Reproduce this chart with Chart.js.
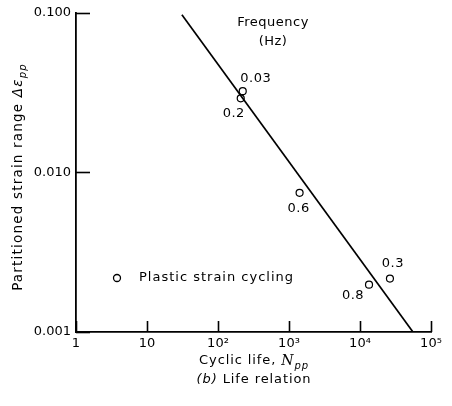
<!DOCTYPE html>
<html>
<head>
<meta charset="utf-8">
<script src="https://cdn.jsdelivr.net/npm/chart.js@4"></script>
<style>
  html, body { margin: 0; padding: 0; background: #fff; }
  #wrap { width: 452px; height: 406px; }
</style>
</head>
<body>
<div id="wrap"><canvas id="life-chart" width="452" height="406"></canvas></div>
<script>
// Cyclic life vs partitioned strain range
const cycles = [223, 209, 1410, 26400, 13400];
const strainRange = [0.0323, 0.0291, 0.00745, 0.00216, 0.00198];
const freqLabels = ['0.03', '0.2', '0.6', '0.3', '0.8'];
// label offsets from each point (px)
const labelOffsets = [[13, -13], [-7, 15], [-1, 16], [3, -15], [-16, 11]];

// fitted life line, endpoints
const fitCycles = [31, 55700];
const fitStrain = [0.0972, 0.001];

const xTicks = [1, 10, 100, 1000, 10000, 100000];
const xTickLabels = ['1', '10', '10²', '10³', '10⁴', '10⁵'];
const yTicks = [0.001, 0.01, 0.1];
const yTickLabels = ['0.001', '0.010', '0.100'];

const FONT = '"DejaVu Sans", sans-serif';

const figureText = {
    id: 'figureText',
    afterDraw(chart) {
        const c = chart.ctx;
        const area = chart.chartArea;
        const xs = chart.scales.x, ys = chart.scales.y;
        c.save();
        c.strokeStyle = '#000';
        c.fillStyle = '#000';

        // inward tick marks
        c.lineWidth = 1.6;
        xTicks.forEach(v => {
            const px = Math.round(xs.getPixelForValue(v)) + 0.5;
            c.beginPath();
            c.moveTo(px, area.bottom);
            c.lineTo(px, area.bottom - 11);
            c.stroke();
        });
        yTicks.forEach(v => {
            const py = Math.round(ys.getPixelForValue(v)) + 0.5;
            c.beginPath();
            c.moveTo(area.left, py);
            c.lineTo(area.left + 14, py);
            c.stroke();
        });

        // frequency labels next to points
        c.font = '13px ' + FONT;
        c.letterSpacing = '0.5px';
        c.textAlign = 'center';
        c.textBaseline = 'middle';
        const pts = chart.getDatasetMeta(1).data;
        pts.forEach((p, i) => {
            c.fillText(freqLabels[i], p.x + labelOffsets[i][0], p.y + labelOffsets[i][1]);
        });

        c.fillText('Frequency', 273, 23);
        c.fillText('(Hz)', 273, 42);

        // legend
        c.lineWidth = 1.3;
        c.beginPath();
        c.arc(117, 278, 3.5, 0, Math.PI * 2);
        c.stroke();
        c.textAlign = 'left';
        c.letterSpacing = '1px';
        c.fillText('Plastic strain cycling', 139, 278);

        // x title: Cyclic life, N_pp
        c.letterSpacing = '0.9px';
        const part1 = 'Cyclic life, ';
        c.font = '13px ' + FONT;
        const w1 = c.measureText(part1).width;
        c.font = 'italic 14px "DejaVu Serif", serif';
        const wN = c.measureText('N').width;
        c.font = 'italic 10px ' + FONT;
        const wS = c.measureText('pp').width;
        let x0 = 254 - (w1 + wN + wS) / 2;
        c.font = '13px ' + FONT;
        c.fillText(part1, x0, 361);
        c.font = 'italic 14px "DejaVu Serif", serif';
        c.fillText('N', x0 + w1, 361);
        c.font = 'italic 10px ' + FONT;
        c.fillText('pp', x0 + w1 + wN, 366);

        // caption
        c.font = 'italic 13px ' + FONT;
        const wb = c.measureText('(b)').width;
        c.font = '13px ' + FONT;
        const wr = c.measureText(' Life relation').width;
        x0 = 254 - (wb + wr) / 2;
        c.font = 'italic 13px ' + FONT;
        c.fillText('(b)', x0, 380);
        c.font = '13px ' + FONT;
        c.fillText(' Life relation', x0 + wb, 380);

        // y title, rotated
        c.letterSpacing = '1.2px';
        c.translate(18, 177);
        c.rotate(-Math.PI / 2);
        const yt = 'Partitioned strain range ';
        c.font = '13.5px ' + FONT;
        const wy = c.measureText(yt).width;
        c.font = 'italic 13.5px ' + FONT;
        const wd = c.measureText('Δε').width;
        c.font = 'italic 10px ' + FONT;
        const wp = c.measureText('pp').width;
        x0 = -(wy + wd + wp) / 2;
        c.font = '13.5px ' + FONT;
        c.fillText(yt, x0, 0);
        c.font = 'italic 13.5px ' + FONT;
        c.fillText('Δε', x0 + wy, 0);
        c.font = 'italic 10px ' + FONT;
        c.fillText('pp', x0 + wy + wd, 5);
        c.restore();
    }
};

document.addEventListener('DOMContentLoaded', function() {
    const ctx = document.getElementById('life-chart').getContext('2d');
    new Chart(ctx, {
        type: 'scatter',
        data: {
            datasets: [{
                type: 'line',
                data: fitCycles.map((n, i) => ({ x: n, y: fitStrain[i] })),
                borderColor: '#000',
                borderWidth: 1.7,
                pointRadius: 0,
                fill: false
            }, {
                data: cycles.map((n, i) => ({ x: n, y: strainRange[i] })),
                pointStyle: 'circle',
                pointRadius: 3.5,
                pointBorderWidth: 1.2,
                borderColor: '#000',
                backgroundColor: '#fff'
            }]
        },
        options: {
            responsive: false,
            animation: false,
            layout: { padding: { left: 0, top: 11, right: 21, bottom: 0 } },
            plugins: { legend: { display: false }, tooltip: { enabled: false } },
            scales: {
                x: {
                    type: 'logarithmic',
                    min: 1,
                    max: 100000,
                    afterBuildTicks: s => { s.ticks = xTicks.map(v => ({ value: v })); },
                    afterFit: s => { s.height = 74; },
                    grid: { display: false, drawTicks: false },
                    border: { display: true, color: '#000', width: 1.8 },
                    ticks: {
                        color: '#000',
                        padding: 4,
                        maxRotation: 0,
                        autoSkip: false,
                        font: { family: FONT, size: 13 },
                        callback: v => xTickLabels[xTicks.indexOf(v)]
                    }
                },
                y: {
                    type: 'logarithmic',
                    min: 0.001,
                    max: 0.1,
                    afterBuildTicks: s => { s.ticks = yTicks.map(v => ({ value: v })); },
                    afterFit: s => { s.width = 76; },
                    grid: { display: false, drawTicks: false },
                    border: { display: true, color: '#000', width: 1.8 },
                    ticks: {
                        color: '#000',
                        padding: 5,
                        autoSkip: false,
                        font: { family: FONT, size: 13 },
                        callback: v => yTickLabels[yTicks.indexOf(v)]
                    }
                }
            }
        },
        plugins: [figureText]
    });
});
</script>
</body>
</html>
